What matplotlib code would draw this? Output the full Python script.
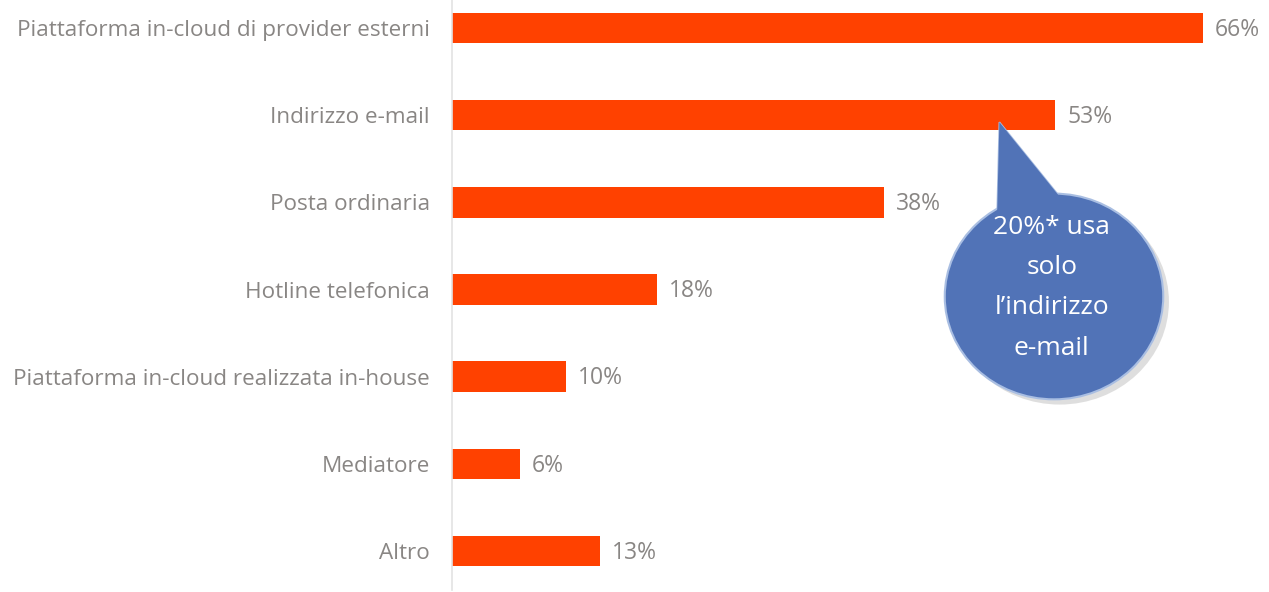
import matplotlib
matplotlib.use("Agg")
import matplotlib.pyplot as plt
from matplotlib.patches import Ellipse, Polygon

categories = [
    "Piattaforma in-cloud di provider esterni",
    "Indirizzo e-mail",
    "Posta ordinaria",
    "Hotline telefonica",
    "Piattaforma in-cloud realizzata in-house",
    "Mediatore",
    "Altro",
]
values = [66, 53, 38, 18, 10, 6, 13]
value_labels = ["66%", "53%", "38%", "18%", "10%", "6%", "13%"]
callout_text = "20%* usa\nsolo\nl\u2019indirizzo\ne-mail"

plt.rcParams['font.family'] = ['Open Sans', 'DejaVu Sans']

W, H, DPI = 1269, 592, 100
fig = plt.figure(figsize=(W / DPI, H / DPI), dpi=DPI)
fig.patch.set_facecolor("white")

left_px = 452
ax = fig.add_axes([left_px / W, 0, 1 - left_px / W, 1])
px_per_unit = 11.38
xmax = (W - left_px) / px_per_unit
spacing = 87.2
ax.set_xlim(0, xmax)
ax.set_ylim(6 + (H - 551) / spacing, -28 / spacing)

y = list(range(len(categories)))
ax.barh(y, values, height=0.35, color="#FF4100", zorder=2)

txt_color = "#898684"
for yi, v, lab in zip(y, values, value_labels):
    ax.text(v + 1.05, yi + 0.02, lab, va="center", ha="left", fontsize=16.5,
            color=txt_color)

ax.set_yticks(y)
ax.set_yticklabels(categories, fontsize=16.2, color=txt_color)
ax.tick_params(axis="y", length=0, pad=16)
ax.set_xticks([])
for s in ["top", "right", "bottom"]:
    ax.spines[s].set_visible(False)
ax.spines["left"].set_color("#e3e3e3")
ax.spines["left"].set_linewidth(1.2)
ax.spines["left"].set_bounds(-28 / spacing, 6.45)

# callout bubble
cx, cy = 52.9, 3.08
rx, ry = 9.6, 1.18
blue = "#5173B7"
edge = "#A9BEE2"
shadow = Ellipse((cx + 0.5, cy + 0.06), 2 * rx, 2 * ry, facecolor="#c9c9c9",
                 edgecolor="none", alpha=0.6, zorder=3)
ax.add_patch(shadow)
tail = Polygon([(48.1, 1.08), (47.9, 2.15), (53.8, 2.0)], closed=True,
               facecolor=blue, edgecolor=edge, linewidth=1.2, zorder=4)
ax.add_patch(tail)
bubble = Ellipse((cx, cy), 2 * rx, 2 * ry, facecolor=blue, edgecolor=edge,
                 linewidth=1.5, zorder=4)
ax.add_patch(bubble)
tail2 = Polygon([(48.1, 1.08), (47.9, 2.15), (53.8, 2.0)], closed=True,
                facecolor=blue, edgecolor="none", zorder=5)
ax.add_patch(tail2)
ax.text(cx - 0.2, cy - 0.1, callout_text, ha="center", va="center", color="white",
        fontsize=19, linespacing=1.8, zorder=6)

fig.savefig("out.png", dpi=DPI)
